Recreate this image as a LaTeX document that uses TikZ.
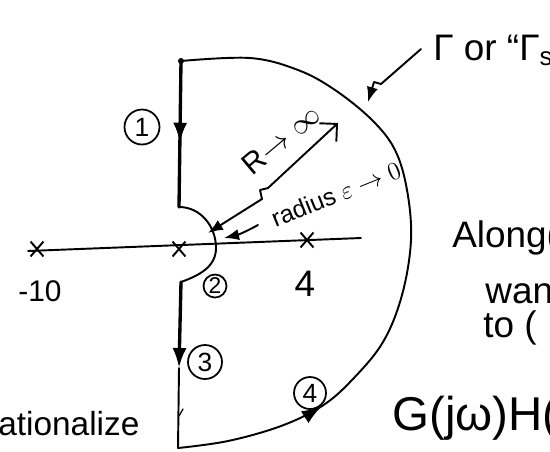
\documentclass[tikz,border=0pt]{standalone}
\usepackage{fontspec}
\setmainfont{Liberation Sans}
\usetikzlibrary{arrows.meta,decorations.markings,shapes.misc}

\begin{document}
\begin{tikzpicture}[
  x=0.02cm,y=-0.02cm,
  pen/.style={line width=1.1pt, line cap=round, line join=round},
  heavy/.style={pen, line width=1.9pt},
  midarrow/.style={postaction={decorate,decoration={markings,mark=at position #1 with {\arrow{Latex[length=4mm,width=2.8mm]}}}}},
  pole/.style={cross out, draw, line width=1.1pt, minimum width=0.22cm, minimum height=0.26cm, inner sep=0pt},
  circnum/.style={draw, circle, line width=1pt, inner sep=0pt, font=\fontsize{15}{17}\selectfont},
  hand/.style={font=\fontsize{21}{24}\selectfont, inner sep=0pt},
  small/.style={font=\fontsize{14}{16}\selectfont, inner sep=0pt}
]
\useasboundingbox (0,0) rectangle (550,451);
\clip (0,0) rectangle (550,451);

% contour points
\coordinate (top) at (181,61);
\coordinate (indtop) at (179,207);
\coordinate (indbot) at (181,282);
\coordinate (low) at (179,368);
\coordinate (corner) at (178,448);

% real axis and poles
\draw[pen] (28,251) -- (361,238);
\node[pole] (p10) at (37,249) {};
\node[pole] (p0) at (179,249) {};
\node[pole] (p4) at (307,240) {};
\node[hand, font=\fontsize{17}{20}\selectfont] (l10) at (40,291) {-10};
\node[hand] (l4) at (305,284) {4};

% contour: imaginary axis with indentation
\fill (top) circle (3);
\draw[heavy, midarrow=0.56] (top) -- (indtop);
\draw[pen] (indtop) to[out=0,in=90] (216,248) to[out=-90,in=20] (indbot);
\draw[heavy, -{Latex[length=4mm,width=2.8mm]}] (indbot) -- (low);
\draw[pen] (low) -- (corner);
\draw[pen, line width=0.7pt] (179,416) -- (183,409);

% big semicircle
\draw[pen, midarrow=0.22] plot[smooth, tension=0.6] coordinates {
  (178,448) (228,441) (281,426) (322,406) (352,380) (383,342) (402,295)
  (411,240) (407,190) (395,150) (372,120) (335,90) (298,70) (250,58) (181,61)};

% circled numbers
\node[circnum, minimum size=0.7cm] (n1) at (142,127) {1};
\node[circnum, minimum size=0.46cm, font=\fontsize{13}{15}\selectfont] (n2) at (215,286) {2};
\node[circnum, minimum size=0.68cm] (n3) at (205,362) {3};
\node[circnum, minimum size=0.64cm] (n4) at (310,393) {4};

% radius R
\draw[pen, {Latex[length=3mm]}-{Straight Barb[length=2.5mm]}]
  (208,233) -- (262,199) -- (260,190) -- (268,188) -- (338,123);
\node[small, font=\fontsize{17}{19}\selectfont, rotate=40] (rlab) at (281,139) {R$\to\infty$};

% radius epsilon
\node[small, rotate=22] (elab) at (336,194) {radius $\varepsilon\to0$};
\draw[pen, -{Latex[length=3mm]}] (258,225) to[bend left=8] (224,238);

% Gamma label
\node[hand, anchor=base west] (glab) at (433,60) {Γ or “Γ\textsubscript{s}”};
\draw[pen, -{Latex[length=3mm]}] (421,49) -- (381,84) -- (374,82) -- (368,102);

% cut-off text on the right
\node[hand, anchor=base west] (t1) at (452,247) {Along(};
\node[hand, anchor=base west] (t2) at (485,303) {wan};
\node[hand, anchor=base west] (t3) at (483,337) {to (};
\node[hand, font=\fontsize{27}{30}\selectfont, anchor=base west] (t4) at (392,430) {G(jω)H(};
\node[hand, font=\fontsize{19}{22}\selectfont, anchor=base west] (t5) at (-2,435) {ationalize};
\end{tikzpicture}
\end{document}
